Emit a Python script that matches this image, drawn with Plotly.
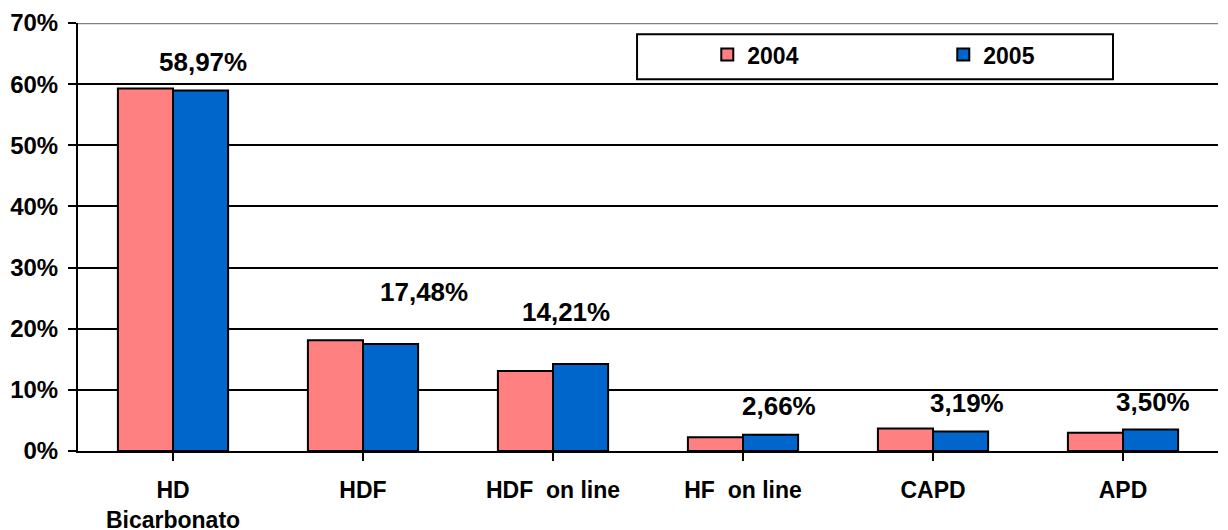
import plotly.graph_objects as go

categories = ["HD<br>Bicarbonato", "HDF", "HDF  on line", "HF  on line", "CAPD", "APD"]
years = ["2004", "2005"]
values_2004 = [59.3, 18.1, 13.1, 2.25, 3.7, 3.0]
values_2005 = [58.97, 17.48, 14.21, 2.66, 3.19, 3.50]
y_ticks = [0, 10, 20, 30, 40, 50, 60, 70]
y_tick_labels = ["0%", "10%", "20%", "30%", "40%", "50%", "60%", "70%"]

colors = ["#FF8080", "#0066CC"]

# label placement (layout only)
label_dx = [0.16, 0.32, 0.07, 0.19, 0.18, 0.16]
label_y = [63.6, 26.0, 22.7, 7.4, 7.9, 8.05]

FONT = "Liberation Sans, Arial, sans-serif"

fig = go.Figure()
for name, vals, col in zip(years, [values_2004, values_2005], colors):
    fig.add_trace(go.Bar(
        x=list(range(len(categories))), y=vals, name=name,
        marker=dict(color=col, line=dict(color="black", width=2)),
        hoverinfo="skip",
    ))

for i, v in enumerate(values_2005):
    fig.add_annotation(
        x=i + label_dx[i], y=label_y[i], xref="x", yref="y",
        text="<b>" + f"{v:.2f}".replace(".", ",") + "%</b>",
        showarrow=False, font=dict(family=FONT, size=26, color="black"),
        xanchor="center", yanchor="middle",
    )

# top border line (gray) at 70%
fig.add_shape(type="line", xref="paper", yref="y", x0=0, x1=1, y0=70, y1=70,
              line=dict(color="#808080", width=2.5))
# legend box
fig.add_shape(type="rect", xref="paper", yref="paper",
              x0=0.4904, x1=0.9079, y0=0.8686, y1=0.9736,
              line=dict(color="black", width=2), fillcolor="white", layer="below")

fig.update_layout(
    width=1228, height=530,
    margin=dict(l=70, r=18, t=15, b=87, autoexpand=False),
    paper_bgcolor="white", plot_bgcolor="white",
    barmode="group", bargap=0.42, bargroupgap=0,
    font=dict(family=FONT, size=23, color="black"),
    showlegend=True,
    legend=dict(
        orientation="h", x=0.552, y=0.926, xanchor="left", yanchor="middle",
        xref="paper", yref="paper",
        bgcolor="rgba(0,0,0,0)", borderwidth=0,
        font=dict(family=FONT, size=23, color="black", weight="bold"),
        entrywidth=191, entrywidthmode="pixels",
        itemsizing="constant", traceorder="normal",
    ),
    xaxis=dict(
        tickmode="array", tickvals=list(range(len(categories))),
        ticktext=["<b>" + c + "</b>" for c in categories],
        range=[-0.5, len(categories) - 0.5],
        showline=True, linecolor="black", linewidth=2,
        ticks="outside", tickson="boundaries", ticklen=8, tickwidth=2, tickcolor="black",
        showgrid=False, zeroline=False, automargin=False,
        tickfont=dict(family=FONT, size=23, color="black"),
        ticklabelstandoff=9,
    ),
    yaxis=dict(
        range=[0, 70], tickvals=y_ticks,
        ticktext=["<b>" + t + "</b>" for t in y_tick_labels],
        showline=True, linecolor="black", linewidth=2,
        ticks="outside", ticklen=8, tickwidth=2, tickcolor="black",
        showgrid=True, gridcolor="black", gridwidth=2,
        zeroline=False, automargin=False,
        tickfont=dict(family=FONT, size=24, color="black"),
        ticklabelstandoff=5,
    ),
)

fig.write_html("out.html")
